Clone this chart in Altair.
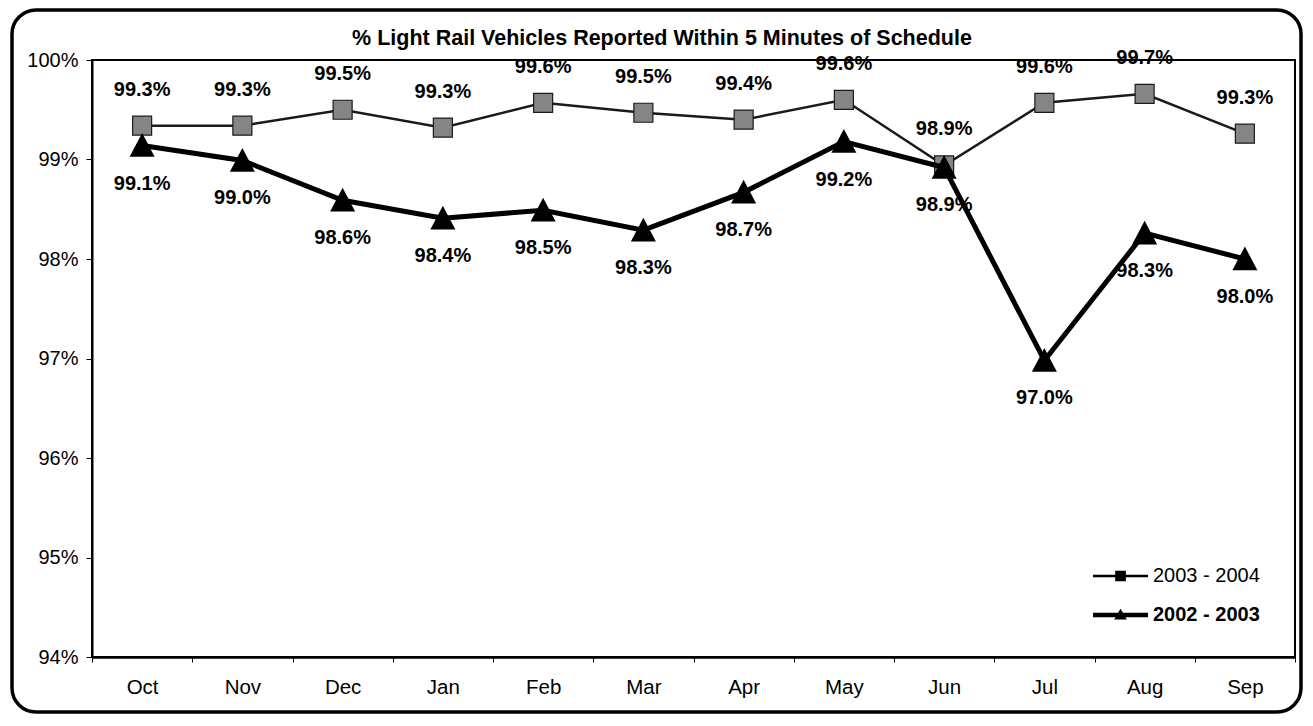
import altair as alt
import pandas as pd

FONT = "Liberation Sans"

months = ["Oct", "Nov", "Dec", "Jan", "Feb", "Mar", "Apr", "May", "Jun", "Jul", "Aug", "Sep"]
series_names = ["2003 - 2004", "2002 - 2003"]
s_0304 = [99.34, 99.34, 99.50, 99.32, 99.57, 99.47, 99.40, 99.60, 98.94, 99.57, 99.66, 99.26]
s_0203 = [99.14, 98.99, 98.59, 98.41, 98.49, 98.29, 98.67, 99.18, 98.92, 96.98, 98.26, 98.00]
y_ticks = [94, 95, 96, 97, 98, 99, 100]
title_text = "% Light Rail Vehicles Reported Within 5 Minutes of Schedule"

df = pd.DataFrame({
    "month": months * 2,
    "value": s_0304 + s_0203,
    "series": [series_names[0]] * len(months) + [series_names[1]] * len(months),
})
df["label"] = df["value"].map(lambda v: f"{v:.1f}%")
one = pd.DataFrame({"k": [0]})

# legend symbols: line segment with marker (custom SVG paths)
path_0304 = "M-6.57,-0.18H1.29V0.18H-6.57Z M-3.4,-0.76H-1.88V0.76H-3.4Z"
path_0203 = "M-6.57,-0.32H1.29V0.32H-6.57Z M-3.55,0.65L-2.64,-0.9L-1.73,0.65Z"
tri_path = "M0,-1L1,0.9L-1,0.9Z"

X = alt.X("month:N", sort=months,
          scale=alt.Scale(type="band", paddingInner=0, paddingOuter=0),
          axis=alt.Axis(title=None, labelAngle=0, tickBand="extent", tickSize=5,
                        tickColor="black", domainColor="black", domainWidth=2.5,
                        labelFontSize=20.5, labelFont=FONT, labelColor="black",
                        labelPadding=15))
Y = alt.Y("value:Q", scale=alt.Scale(domain=[94, 100], nice=False, zero=False),
          axis=alt.Axis(title=None, values=y_ticks, labelExpr="datum.value + '%'",
                        grid=False, tickSize=6, tickColor="black", domainColor="black",
                        domainWidth=2, labelFontSize=20, labelFont=FONT,
                        labelColor="black", labelPadding=8))

base = alt.Chart(df).encode(x=X, y=Y)
sub04 = base.transform_filter(alt.datum.series == series_names[0])
sub03 = base.transform_filter(alt.datum.series == series_names[1])

line04 = sub04.mark_line(color="#1a1a1a", strokeWidth=2.5)
pts04 = sub04.mark_point(shape="square", size=361, filled=True, fill="#858585",
                         stroke="#1a1a1a", strokeWidth=1.2, opacity=1)
lab04 = sub04.mark_text(dy=-36, fontSize=20, fontWeight="bold", font=FONT,
                        color="black").encode(text="label:N")

line03 = sub03.mark_line(color="black", strokeWidth=5)
pts03 = sub03.mark_point(shape=tri_path, size=625, filled=True, color="black", opacity=1)
lab03 = sub03.mark_text(dy=38, fontSize=20, fontWeight="bold", font=FONT,
                        color="black").encode(text="label:N")

legend_layer = base.mark_point(filled=True, clip=True, yOffset=4000, color="black",
                               opacity=1).encode(
    shape=alt.Shape("series:N",
                    scale=alt.Scale(domain=series_names, range=[path_0304, path_0203]),
                    legend=alt.Legend(title=None, orient="none", legendX=1037, legendY=506,
                                      symbolSize=196, symbolStrokeWidth=0,
                                      labelFontSize=20, labelFont=FONT, labelColor="black",
                                      labelOffset=4, rowPadding=19, padding=0,
                                      labelFontWeight={"expr": "datum.label == '2002 - 2003' ? 'bold' : 'normal'"}))
)

frame = alt.Chart(one).mark_rect(fill="white", fillOpacity=0, stroke="black",
                                 strokeWidth=3.5, cornerRadius=24).encode(
    x=alt.value(-80), x2=alt.value(1209), y=alt.value(-50), y2=alt.value(652))

title = alt.Chart(one).mark_text(text=title_text, fontSize=21.5, fontWeight="bold",
                                 font=FONT, baseline="alphabetic", align="center",
                                 color="black").encode(x=alt.value(570), y=alt.value(-15))

chart = alt.layer(frame, title, line04, pts04, lab04, line03, pts03, lab03, legend_layer).properties(
    width=1203, height=597,
    autosize=alt.AutoSizeParams(type="none"),
    padding={"left": 84, "top": 52, "right": 10, "bottom": 57},
).configure_view(stroke="black", strokeWidth=2)

chart.save("out.html", embed_options={"renderer": "svg", "actions": False})
